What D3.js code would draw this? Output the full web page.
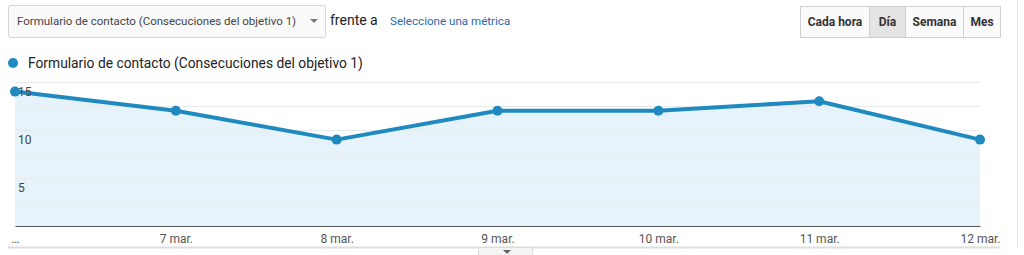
<!DOCTYPE html>
<html><head><meta charset="utf-8">
<script src="https://cdn.jsdelivr.net/npm/d3@7"></script>
<style>
html,body{margin:0;padding:0;background:#fff;overflow:hidden;}
svg{display:block;font-family:Roboto,"Noto Sans",Arial,sans-serif;}
</style></head>
<body>
<svg id="c" width="1024" height="255"></svg>
<script>
const categories = ["6 mar.","7 mar.","8 mar.","9 mar.","10 mar.","11 mar.","12 mar."];
const tickLabels = ["…","7 mar.","8 mar.","9 mar.","10 mar.","11 mar.","12 mar."];
const values = [14, 12, 9, 12, 12, 13, 9];
const yTicks = [5, 10, 15];
const gridTicks = [2.5, 5, 7.5, 10, 12.5, 15];
const seriesName = "Formulario de contacto (Consecuciones del objetivo 1)";
const periods = ["Cada hora","Día","Semana","Mes"];
const activePeriod = "Día";

(function(){
const svg = d3.select("#c");
const color = "#1f8ac0";
const pLeft = 15, pRight = 980, pTop = 82, pBottom = 226;

// header: dropdown
svg.append("rect").attr("x",8.5).attr("y",5.5).attr("width",317).attr("height",32).attr("rx",2)
  .attr("fill","#fafafa").attr("stroke","#d6d6d6");
svg.append("text").attr("x",17).attr("y",25).attr("font-size",11.5).attr("fill","#444").text(seriesName);
svg.append("path").attr("d","M310,19 L318,19 L314,23 Z").attr("fill","#777");
svg.append("text").attr("x",330).attr("y",25).attr("font-size",14).attr("fill","#222").text("frente a");
svg.append("text").attr("x",390).attr("y",25).attr("font-size",11.6).attr("fill","#2b6aa8").text("Seleccione una métrica");

// period buttons
const bx = [800, 869, 905, 963, 1000];
periods.forEach((p,i)=>{
  svg.append("rect").attr("x",bx[i]+0.5).attr("y",6.5).attr("width",bx[i+1]-bx[i]).attr("height",31)
    .attr("fill", p===activePeriod ? "#e4e4e4" : "#fafafa").attr("stroke","#d0d0d0");
  svg.append("text").attr("x",(bx[i]+bx[i+1])/2+0.5).attr("y",26).attr("text-anchor","middle")
    .attr("font-size",12).attr("font-weight","bold").attr("fill","#333").text(p);
});
svg.append("line").attr("x1",1017.5).attr("x2",1017.5).attr("y1",0).attr("y2",248).attr("stroke","#e6e6e6");

// legend
svg.append("circle").attr("cx",13).attr("cy",63).attr("r",5).attr("fill",color);
svg.append("text").attr("x",28).attr("y",68).attr("font-size",13.8).attr("fill","#222").text(seriesName);

// scales
const x = d3.scalePoint().domain(categories).range([pLeft, pRight]);
const y = d3.scaleLinear().domain([0, 15]).range([pBottom, pTop]);

const area = d3.area().x((d,i)=>x(categories[i])).y0(y(0)).y1(d=>y(d));
svg.append("path").datum(values).attr("d",area).attr("fill","#e6f3fa");
// gridlines
svg.append("g").selectAll("line").data(gridTicks).join("line")
  .attr("x1",pLeft).attr("x2",pRight).attr("y1",d=>Math.round(y(d))+0.5).attr("y2",d=>Math.round(y(d))+0.5)
  .attr("stroke","#e6ebee").attr("stroke-width",1);

// x axis
const xAxis = d3.axisBottom(x).tickSize(0).tickPadding(8).tickFormat((d,i)=>tickLabels[i]);
const gx = svg.append("g").attr("transform",`translate(0,${pBottom})`).call(xAxis);
gx.select(".domain").attr("stroke","#555").attr("stroke-width",1.2);
gx.selectAll("text").attr("font-size",12).attr("fill","#555").attr("font-family","Roboto,Arial,sans-serif");

// line
const line = d3.line().x((d,i)=>x(categories[i])).y(d=>y(d));
svg.append("path").datum(values).attr("d",line).attr("fill","none").attr("stroke",color).attr("stroke-width",4).attr("stroke-linejoin","round");
svg.append("g").selectAll("circle").data(values).join("circle")
  .attr("cx",(d,i)=>x(categories[i])).attr("cy",d=>y(d)).attr("r",5).attr("fill",color);

// y labels drawn on top
svg.append("g").selectAll("text").data(yTicks).join("text")
  .attr("x",18).attr("y",d=>y(d)+14).attr("font-size",12).attr("fill","#444").text(d=>d);

// bottom border & tab
svg.append("line").attr("x1",8).attr("x2",1000).attr("y1",247.5).attr("y2",247.5).attr("stroke","#dedede").attr("stroke-width",2);
svg.append("rect").attr("x",478.5).attr("y",247.5).attr("width",54).attr("height",10).attr("fill","#f4f4f4").attr("stroke","#dcdcdc");
svg.append("path").attr("d","M503,250 L511,250 L507,254 Z").attr("fill","#666");
})();
</script>
</body></html>
